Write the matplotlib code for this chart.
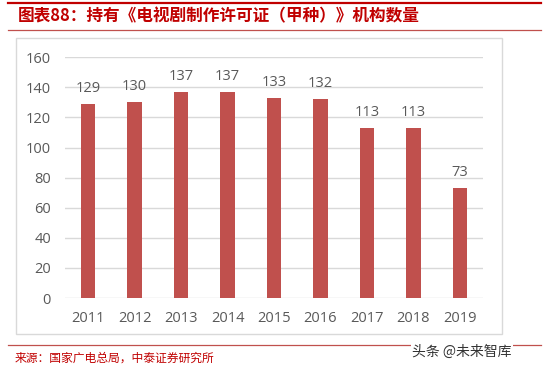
import matplotlib
matplotlib.use("Agg")
import matplotlib.pyplot as plt
from matplotlib.patches import Rectangle
from matplotlib.lines import Line2D

years = ["2011", "2012", "2013", "2014", "2015", "2016", "2017", "2018", "2019"]
counts = [129, 130, 137, 137, 133, 132, 113, 113, 73]
yticks = [0, 20, 40, 60, 80, 100, 120, 140, 160]

title = "图表88：持有《电视剧制作许可证（甲种）》机构数量"
source = "来源：国家广电总局，中泰证券研究所"
watermark = "头条 @未来智库"

plt.rcParams['font.family'] = ['Noto Sans CJK SC', 'DejaVu Sans']

W, H = 550, 372
fig = plt.figure(figsize=(5.5, 3.72), dpi=100)

def fx(px):
    return px / W

def fy(py):
    return 1 - py / H

# decorative lines
fig.add_artist(Line2D([fx(8), fx(541)], [fy(3), fy(3)], color="#C00000", lw=1.6))
fig.add_artist(Line2D([fx(8), fx(541)], [fy(30), fy(30)], color="#C0504D", lw=0.9))
fig.add_artist(Line2D([fx(8), fx(541)], [fy(345), fy(345)], color="#C0504D", lw=0.9))
# chart frame
fig.add_artist(Rectangle((fx(16), fy(334)), fx(502) - fx(16), fy(38) - fy(334),
                         fill=False, edgecolor="#D9D9D9", lw=1.0))

fig.text(fx(18), fy(16), title, color="#C00000", fontsize=12, fontweight="bold",
         ha="left", va="center")
fig.text(fx(15), fy(358), source, color="#C00000", fontsize=8.5, ha="left", va="center")
fig.text(fx(512), fy(352), watermark, color="#333333", fontsize=10, ha="right", va="center",
         bbox=dict(facecolor="white", edgecolor="none", pad=1))

ax = fig.add_axes([fx(65), fy(298), fx(483) - fx(65), fy(57.3) - fy(298)])
x = list(range(len(years)))
bars = ax.bar(x, counts, width=0.31, color="#C0504D", zorder=3)
ax.set_xlim(-0.5, len(years) - 0.5)
ax.set_ylim(0, 160)
ax.set_yticks(yticks)
ax.set_xticks(x)
ax.set_xticklabels(years)
ax.grid(axis="y", color="#D9D9D9", lw=1.0, zorder=0)
for s in ax.spines.values():
    s.set_visible(False)
ax.tick_params(axis="both", length=0, colors="#595959", labelsize=10.5)
ax.tick_params(axis="x", pad=9)
ax.tick_params(axis="y", pad=10)
for lab in ax.get_xticklabels() + ax.get_yticklabels():
    lab.set_fontfamily(['Open Sans', 'DejaVu Sans'])
for xi, v in zip(x, counts):
    ax.annotate(str(v), (xi, v), xytext=(0, 6), textcoords="offset points",
                ha="center", va="bottom", color="#595959", fontsize=10.5,
                fontfamily=['Open Sans', 'DejaVu Sans'])

fig.savefig("out.png", dpi=100)
